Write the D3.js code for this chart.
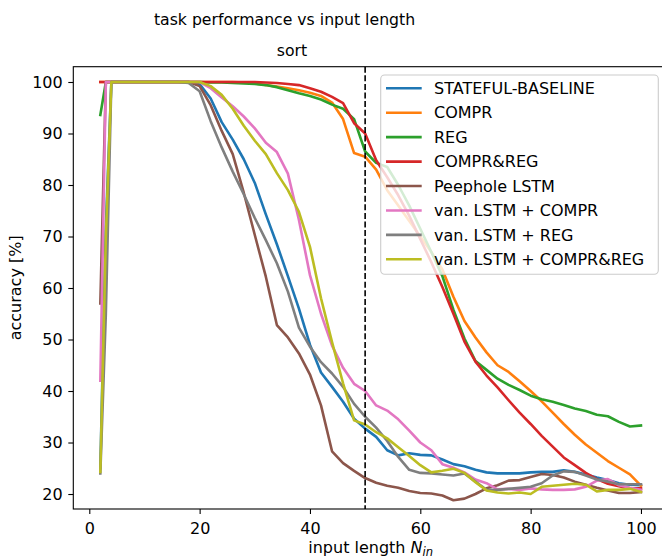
<!DOCTYPE html>
<html>
<head>
<meta charset="utf-8">
<script src="https://cdn.jsdelivr.net/npm/d3@7"></script>
<style>
  body { margin: 0; background: #fff; }
  svg { display: block; font-family: "DejaVu Sans", sans-serif; }
</style>
</head>
<body>
<svg id="chart" width="662" height="560"></svg>
<script>
// ---------- data ----------
const inputLengths = [2, 3, 4, 6, 8, 10, 12, 14, 16, 18, 20, 22, 24, 26, 28, 30, 32, 34, 36, 38, 40,
  42, 44, 46, 48, 50, 52, 54, 56, 58, 60, 62, 64, 66, 68, 70, 72, 74, 76, 78, 80,
  82, 84, 86, 88, 90, 92, 94, 96, 98, 100];

const seriesNames = ["STATEFUL-BASELINE", "COMPR", "REG", "COMPR&REG", "Peephole LSTM",
  "van. LSTM + COMPR", "van. LSTM + REG", "van. LSTM + COMPR&REG"];

const statefulBaseline = [25, 72, 100, 100, 100, 100, 100, 100, 100, 100, 99.6, 96.8, 92.2, 88.8, 85.0, 80.4, 74.3, 68.5, 62.3, 56.0, 49.0,
  43.6, 40.8, 37.9, 34.6, 32.7, 31.1, 28.5, 27.5, 27.9, 27.6, 27.5, 26.7, 25.8, 25.4, 24.7, 24.2, 24.0, 24.0, 24.0, 24.2,
  24.3, 24.3, 24.6, 24.3, 23.8, 23.2, 22.7, 22.1, 21.8, 21.7];
const compr = [100, 100, 100, 100, 100, 100, 100, 100, 100, 100, 100, 100, 100, 100, 99.9, 99.7, 99.4, 99.1, 98.8, 98.4, 97.9,
  97.3, 96.0, 92.8, 86.2, 85.5, 83.0, 79.0, 76.0, 73.0, 70.0, 67.0, 63.6, 58.3, 53.6, 50.4, 47.5, 45.0, 43.7, 41.9, 40.0,
  38.0, 35.8, 33.6, 31.5, 29.6, 28.0, 26.4, 25.1, 23.8, 21.6];
const reg = [93.6, 100, 100, 100, 100, 100, 100, 100, 100, 100, 100, 99.9, 99.9, 99.8, 99.7, 99.6, 99.4, 99.0, 98.4, 97.8, 97.3,
  96.6, 95.6, 94.8, 92.8, 86.5, 84.3, 83.5, 80.0, 76.0, 71.5, 67.0, 62.3, 55.8, 50.2, 45.8, 44.1, 42.4, 41.2, 40.2, 39.1,
  38.4, 37.9, 37.3, 36.6, 36.1, 35.4, 35.1, 34.0, 33.1, 33.3];
const comprReg = [100, 100, 100, 100, 100, 100, 100, 100, 100, 100, 100, 100, 100, 100, 100, 100, 99.9, 99.8, 99.6, 99.4, 98.8,
  98.1, 97.1, 95.9, 92.0, 90.0, 84.8, 81.5, 78.0, 74.0, 69.5, 65.0, 60.2, 55.0, 49.6, 45.7, 43.0, 40.7, 38.2, 35.8, 33.6,
  31.3, 29.2, 27.1, 25.6, 24.1, 22.9, 22.0, 21.5, 21.1, 21.1];
const peepholeLstm = [57, 100, 100, 100, 100, 100, 100, 100, 100, 100, 99.2, 95.5, 90.5, 86.0, 78.5, 70.3, 62.2, 52.8, 50.4, 47.3, 43.2,
  37.2, 28.3, 26.0, 24.5, 23.1, 22.2, 21.6, 21.2, 20.6, 20.2, 20.1, 19.7, 18.8, 19.1, 20.0, 21.1, 21.7, 22.6, 22.7, 23.3,
  23.9, 23.7, 23.2, 22.4, 21.8, 21.2, 20.7, 20.2, 20.2, 20.4];
const vanLstmCompr = [42, 100, 100, 100, 100, 100, 100, 100, 100, 100, 100, 98.8, 97.0, 95.3, 93.3, 91.0, 88.2, 86.4, 82.2, 73.2, 62.5,
  55.0, 48.8, 44.5, 41.4, 40.0, 37.2, 36.2, 34.5, 32.3, 30.0, 28.5, 25.8, 25.1, 24.2, 22.8, 22.1, 20.9, 21.0, 20.8, 21.1,
  20.9, 20.8, 20.8, 20.9, 21.4, 22.6, 22.9, 21.7, 21.2, 20.8];
const vanLstmReg = [24, 55, 100, 100, 100, 100, 100, 100, 100, 99.8, 98.2, 92.4, 87.3, 82.6, 78.2, 73.6, 69.3, 64.8, 59.3, 52.3, 48.6,
  45.6, 43.4, 40.8, 37.5, 35.0, 32.9, 30.3, 27.2, 24.7, 24.1, 24.0, 23.8, 23.6, 24.0, 22.4, 20.8, 20.8, 21.0, 21.2, 21.4,
  22.1, 23.6, 24.4, 24.3, 23.6, 22.8, 22.4, 21.9, 21.9, 21.9];
const vanLstmComprReg = [24.3, 70, 100, 100, 100, 100, 100, 100, 100, 100, 100, 99.2, 97.5, 94.8, 91.5, 88.6, 86.0, 82.3, 79.0, 74.8, 68.0,
  58.0, 49.5, 41.5, 34.3, 33.5, 32.0, 30.8, 29.1, 27.4, 25.6, 24.2, 24.5, 24.9, 24.1, 22.3, 20.7, 20.3, 20.1, 20.3, 20.0,
  21.4, 21.6, 21.8, 22.0, 21.8, 20.5, 20.8, 20.8, 21.0, 20.4];

const xTicks = [0, 20, 40, 60, 80, 100];
const yTicks = [20, 30, 40, 50, 60, 70, 80, 90, 100];
const thresholdLength = 50;

const seriesValues = [statefulBaseline, compr, reg, comprReg, peepholeLstm, vanLstmCompr, vanLstmReg, vanLstmComprReg];
const colors = ["#1f77b4", "#ff7f0e", "#2ca02c", "#d62728", "#8c564b", "#e377c2", "#7f7f7f", "#bcbd22"];

// ---------- layout ----------
const svg = d3.select("#chart");
const plot = { left: 73.3, top: 66.7, right: 668, bottom: 509 };

const x = d3.scaleLinear().domain([-2.9, 104.9]).range([plot.left, plot.right]);
const y = d3.scaleLinear().domain([17.09, 102.97]).range([plot.bottom, plot.top]);

svg.append("defs").append("clipPath").attr("id", "clip")
  .append("rect").attr("x", plot.left).attr("y", plot.top)
  .attr("width", plot.right - plot.left).attr("height", plot.bottom - plot.top);

// lines
const line = d3.line().x((d, i) => x(inputLengths[i])).y(d => y(d));
const linesG = svg.append("g").attr("clip-path", "url(#clip)");
seriesValues.forEach((vals, k) => {
  linesG.append("path")
    .datum(vals)
    .attr("d", line)
    .attr("fill", "none")
    .attr("stroke", colors[k])
    .attr("stroke-width", 2.6)
    .attr("stroke-linejoin", "round")
    .attr("stroke-linecap", "square");
});

// dashed threshold
svg.append("line")
  .attr("x1", x(thresholdLength)).attr("x2", x(thresholdLength))
  .attr("y1", plot.top).attr("y2", plot.bottom)
  .attr("stroke", "#000").attr("stroke-width", 1.6)
  .attr("stroke-dasharray", "6,2.6");

// spines
const spineG = svg.append("g").attr("fill", "none").attr("stroke", "#000").attr("stroke-width", 1.1);
spineG.append("rect").attr("x", plot.left).attr("y", plot.top)
  .attr("width", plot.right - plot.left).attr("height", plot.bottom - plot.top);

// axes
const xAxis = d3.axisBottom(x).tickValues(xTicks).tickSize(5).tickPadding(8.6).tickSizeOuter(0);
const yAxis = d3.axisLeft(y).tickValues(yTicks).tickSize(5).tickPadding(5.6).tickSizeOuter(0);

const gx = svg.append("g").attr("transform", `translate(0,${plot.bottom})`).call(xAxis);
const gy = svg.append("g").attr("transform", `translate(${plot.left},0)`).call(yAxis);
[gx, gy].forEach(g => {
  g.select(".domain").remove();
  g.selectAll(".tick line").attr("stroke", "#000").attr("stroke-width", 1.1);
  g.selectAll(".tick text").attr("fill", "#000")
    .style("font-family", "DejaVu Sans").style("font-size", "16px");
});

// titles
svg.append("text").attr("x", 284.5).attr("y", 25).attr("text-anchor", "middle")
  .style("font-size", "15.7px").attr("fill", "#000").text("task performance vs input length");
svg.append("text").attr("x", 292).attr("y", 56).attr("text-anchor", "middle")
  .style("font-size", "15.7px").attr("fill", "#000").text("sort");

// axis labels
const xl = svg.append("text").attr("x", (plot.left + plot.right) / 2).attr("y", 553)
  .attr("text-anchor", "middle").style("font-size", "16px").attr("fill", "#000");
xl.append("tspan").text("input length ");
xl.append("tspan").style("font-style", "italic").text("N");
xl.append("tspan").style("font-style", "italic").style("font-size", "11.5px").attr("dy", 3).text("in");

svg.append("text")
  .attr("transform", `translate(20.5,${(plot.top + plot.bottom) / 2}) rotate(-90)`)
  .attr("text-anchor", "middle").style("font-size", "16px").attr("fill", "#000")
  .text("accuracy [%]");

// legend
const lg = svg.append("g");
const lgBox = { x: 380.7, y: 75, w: 277.6, h: 199.3 };
lg.append("rect").attr("x", lgBox.x).attr("y", lgBox.y).attr("width", lgBox.w).attr("height", lgBox.h)
  .attr("rx", 4).attr("ry", 4)
  .attr("fill", "#fff").attr("fill-opacity", 0.8)
  .attr("stroke", "#cccccc").attr("stroke-width", 1.1);
seriesNames.forEach((name, k) => {
  const cy = 88.3 + k * 24.43;
  lg.append("line").attr("x1", 386).attr("x2", 421.7).attr("y1", cy).attr("y2", cy)
    .attr("stroke", colors[k]).attr("stroke-width", 2.6).attr("stroke-linecap", "butt");
  lg.append("text").attr("x", 434).attr("y", cy).attr("dy", "0.36em")
    .style("font-size", "16px").attr("fill", "#000").text(name);
});
</script>
</body>
</html>
